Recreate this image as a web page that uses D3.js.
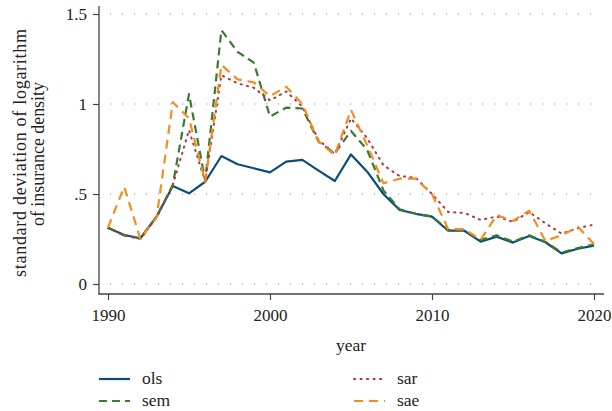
<!DOCTYPE html>
<html>
<head>
<meta charset="utf-8">
<script src="https://cdn.jsdelivr.net/npm/d3@7"></script>
<style>
  body { margin: 0; background: #fff; }
  text { font-family: "Liberation Serif", "DejaVu Serif", serif; fill: #222; }
</style>
</head>
<body>
<div id="holder"></div>
<script>
// data
var years = d3.range(1990, 2021);
var ols = [0.313, 0.272, 0.254, 0.374, 0.544, 0.504, 0.568, 0.711, 0.665, 0.643, 0.62, 0.68, 0.69, 0.63, 0.572, 0.72, 0.624, 0.5, 0.411, 0.39, 0.374, 0.296, 0.296, 0.235, 0.263, 0.23, 0.267, 0.232, 0.17, 0.196, 0.213];
var sem = [0.313, 0.27, 0.254, 0.374, 0.55, 1.055, 0.575, 1.41, 1.29, 1.23, 0.93, 0.98, 0.975, 0.79, 0.726, 0.85, 0.745, 0.52, 0.415, 0.39, 0.375, 0.3, 0.3, 0.245, 0.27, 0.235, 0.27, 0.235, 0.175, 0.2, 0.22];
var sar = [0.31, 0.27, 0.25, 0.37, 0.55, 0.855, 0.568, 1.16, 1.115, 1.09, 1.02, 1.07, 0.985, 0.8, 0.722, 0.92, 0.81, 0.66, 0.6, 0.59, 0.5, 0.4, 0.395, 0.356, 0.375, 0.345, 0.4, 0.337, 0.28, 0.31, 0.33];
var sae = [0.313, 0.54, 0.25, 0.37, 1.01, 0.92, 0.568, 1.217, 1.137, 1.12, 1.044, 1.096, 1.0, 0.79, 0.717, 0.967, 0.77, 0.56, 0.585, 0.585, 0.5, 0.305, 0.305, 0.245, 0.383, 0.35, 0.407, 0.24, 0.27, 0.318, 0.222];
var yTicks = [0, 0.5, 1, 1.5];
var yTickLabels = ["0", ".5", "1", "1.5"];
var xTicks = [1990, 2000, 2010, 2020];
var seriesNames = ["ols", "sem", "sar", "sae"];

var W = 612, H = 411;
var svg = d3.select("#holder").append("svg")
    .attr("width", W).attr("height", H);

var x = d3.scaleLinear().domain([1990, 2020]).range([108, 594]);
var y = d3.scaleLinear().domain([0, 1.5]).range([284, 14]);

// gridlines
svg.append("g").selectAll("line")
    .data(yTicks).enter().append("line")
    .attr("x1", 110).attr("x2", 593)
    .attr("y1", d => y(d)).attr("y2", d => y(d))
    .attr("stroke", "#8a8a8a").attr("stroke-width", 1.1)
    .attr("stroke-dasharray", "1.2,10.8");

// y axis
var yAxis = d3.axisLeft(y).tickValues(yTicks)
    .tickFormat((d, i) => yTickLabels[i]).tickSize(6).tickPadding(6);
var gy = svg.append("g").attr("transform", "translate(99,0)").call(yAxis);
gy.select(".domain").remove();
gy.selectAll("line").attr("stroke", "#444").attr("stroke-width", 1.2);
gy.selectAll("text").attr("font-size", 17).style("font-family", "Liberation Serif").attr("fill", "#222");
svg.append("line").attr("x1", 99).attr("x2", 99).attr("y1", 6).attr("y2", 294.5)
    .attr("stroke", "#444").attr("stroke-width", 1.3);

// x axis
var xAxis = d3.axisBottom(x).tickValues(xTicks).tickFormat(d3.format("d"))
    .tickSize(6).tickPadding(9);
var gx = svg.append("g").attr("transform", "translate(0,294)").call(xAxis);
gx.select(".domain").remove();
gx.selectAll("line").attr("stroke", "#444").attr("stroke-width", 1.2);
gx.selectAll("text").attr("font-size", 17).style("font-family", "Liberation Serif").attr("fill", "#222");
svg.append("line").attr("x1", 98.4).attr("x2", 604).attr("y1", 294).attr("y2", 294)
    .attr("stroke", "#444").attr("stroke-width", 1.3);

// axis titles
svg.append("text").attr("x", 351).attr("y", 351)
    .attr("text-anchor", "middle").attr("font-size", 17.5).text("year");
var yl = svg.append("text").attr("transform", "rotate(-90)")
    .attr("text-anchor", "middle").attr("font-size", 18);
yl.append("tspan").attr("x", -153).attr("y", 26)
    .attr("textLength", 248).attr("lengthAdjust", "spacing")
    .text("standard deviation of logarithm");
yl.append("tspan").attr("x", -154).attr("y", 44)
    .attr("textLength", 144).attr("lengthAdjust", "spacing")
    .text("of insurance density");

// lines
var styles = {
  ols: {color: "#0f4c75", dash: null, width: 2.2},
  sem: {color: "#3a7a30", dash: "8,5", width: 2.2},
  sar: {color: "#a83a44", dash: "1.2,5.3", width: 2},
  sae: {color: "#f68b1f", dash: "9,6", width: 2.2}
};
var seriesData = {ols: ols, sem: sem, sar: sar, sae: sae};

var line = d3.line().x((d, i) => x(years[i])).y(d => y(d));

seriesNames.forEach(function(name) {
  var s = styles[name];
  svg.append("path")
      .datum(seriesData[name])
      .attr("d", line)
      .attr("fill", "none")
      .attr("stroke", s.color)
      .attr("stroke-width", s.width)
      .attr("stroke-dasharray", s.dash)
      .attr("stroke-linejoin", "round")
      .attr("stroke-linecap", name == "sar" ? "round" : "butt");
});

// legend
var legendPos = {
  ols: [99, 379], sem: [99, 401],
  sar: [354, 379], sae: [354, 401]
};
seriesNames.forEach(function(name) {
  var s = styles[name], p = legendPos[name];
  svg.append("line")
      .attr("x1", p[0]).attr("x2", p[0] + 31)
      .attr("y1", p[1]).attr("y2", p[1])
      .attr("stroke", s.color).attr("stroke-width", s.width)
      .attr("stroke-dasharray", s.dash)
      .attr("stroke-linecap", name == "sar" ? "round" : "butt");
  svg.append("text")
      .attr("x", p[0] + 43).attr("y", p[1] + 5)
      .attr("font-size", 17.5).text(name);
});
</script>
</body>
</html>
